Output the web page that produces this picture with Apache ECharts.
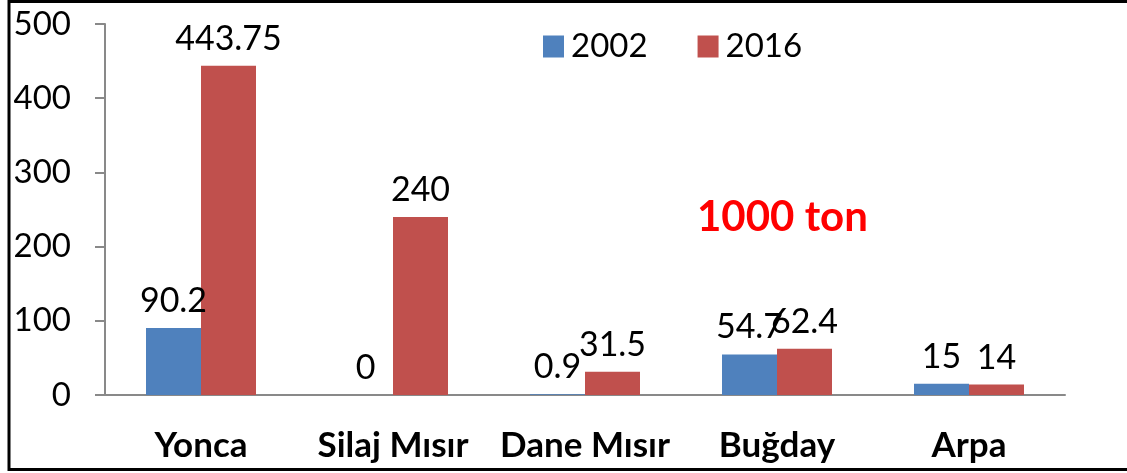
<!DOCTYPE html>
<html><head><meta charset="utf-8">
<script src="https://cdn.jsdelivr.net/npm/echarts@6/dist/echarts.min.js"></script>
<style>html,body{margin:0;padding:0;background:#fff}#c{width:1127px;height:473px}</style>
</head><body><div id="c"></div>
<script>
// crops and production, 2002 vs 2016 (1000 ton)
const cats = ['Yonca','Silaj Mısır','Dane Mısır','Buğday','Arpa'];
const y2002 = [90.2, 0, 0.9, 54.7, 15];
const y2016 = [443.75, 240, 31.5, 62.4, 14];
const years = ['2002','2016'];
const yTicks = {min:0, max:500, step:100};

const F = 'Lato, "Open Sans", sans-serif';
const AXC = '#898989';
const lbl = {show:true, position:'top', distance:10, fontSize:34, fontFamily:F, color:'#000'};

const c = echarts.init(document.getElementById('c'), null, {renderer:'canvas'});
c.setOption({
  animation:false,
  color:['#4F81BD','#C0504D'],
  textStyle:{fontFamily:F},
  grid:{left:105, right:62, top:24, bottom:78, containLabel:false},
  legend:{data:years, left:538, top:25, itemWidth:21, itemHeight:22, itemGap:50, icon:'rect',
    textStyle:{fontSize:33, fontFamily:F, color:'#000', padding:[0,0,0,2]}},
  xAxis:{type:'category', data:cats,
    axisLine:{lineStyle:{color:AXC, width:2}},
    axisTick:{length:12, lineStyle:{color:AXC, width:2}},
    axisLabel:{interval:0, margin:33, fontSize:35, fontWeight:'bold', fontFamily:F, color:'#000'}},
  yAxis:{type:'value', min:yTicks.min, max:yTicks.max, interval:yTicks.step,
    splitLine:{show:false},
    axisLine:{show:true, lineStyle:{color:AXC, width:2}},
    axisTick:{show:true, length:10, lineStyle:{color:AXC, width:2}},
    axisLabel:{margin:34, fontSize:33, fontFamily:F, color:'#000'}},
  series:[
    {name:years[0], type:'bar', data:y2002, barWidth:55, barGap:'0%', label:lbl},
    {name:years[1], type:'bar', data:y2016, barWidth:55, barGap:'0%', label:lbl}
  ],
  graphic:[
    {type:'rect', silent:true, shape:{x:9, y:1.5, width:1140, height:468},
      style:{fill:'none', stroke:'#000', lineWidth:3}},
    {type:'text', left:697, top:196, style:{text:'1000 ton', fontSize:42, fontWeight:'bold', fontFamily:F, fill:'#FF0000'}}
  ]
});
</script></body></html>
